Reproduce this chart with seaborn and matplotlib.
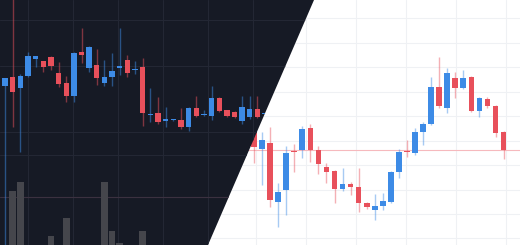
import numpy as np
import matplotlib
matplotlib.use("Agg")
import matplotlib.pyplot as plt
import seaborn as sns
from matplotlib.patches import Polygon

# ---------------- data: dark (left) chart ----------------
dark_open = [159, 168, 157, 169, 186, 184, 188, 172, 162, 149, 193, 177, 180, 162, 168, 177, 185, 175,
             178, 130, 132, 124, 124.5, 125, 118, 137, 129.5, 129, 147, 135, 133, 123.5, 128, 136, 131]
dark_close = [167, 153, 169, 189, 189, 178, 179, 161, 149, 192, 190, 198, 167, 168, 174, 179, 172, 176,
              132, 131, 123, 126, 125.5, 118, 137, 129, 130.5, 147, 134, 129, 127.5, 138, 136, 128, 132]
dark_high = [167, 250, 171, 193, 189, 184, 189, 183, 169, 193, 217, 199, 196, 185, 192, 217, 190, 184,
             187, 157, 148, 138, 126, 137, 138, 149, 135, 159, 148, 135, 134, 149, 149, 149, 132]
dark_low = [-5, 118, 93, 168, 178, 173, 175, 158, 143, 143, 182, 173, 160, 159, 159, 170, 168, 171,
            119, 123, 121, 118, 124, 116, 114, 128, 129, 125, 133, 128, 127, 121, 126, 127, 131]
dark_volume = [0, 54, 63, 0, 0, 0, 9, 0, 27, 0, 0, 0, 0, 63, 14, 2, 0, 0,
               14, 0, 0, 0, 0, 0, 0, 0, 0, 0, 0, 0, 0, 0, 0, 0, 0]
dark_last_price = 48

# ---------------- data: light (right) chart ----------------
light_open = [113, 96, 102, 43, 55, 94, 95, 117, 95, 78, 74, 56, 61, 58, 42, 35, 39, 43, 73, 94, 92,
              113, 121, 158, 137, 167, 157, 168, 134, 146, 139, 113]
light_close = [98, 105, 45, 53, 92, 93, 116, 95, 81, 73, 56.5, 61, 58, 42, 38, 39.5, 44, 73, 93, 93, 113,
               121, 158, 139, 172, 157, 167, 134, 147, 139, 112, 95]
light_high = [115, 113, 118, 62, 99, 101, 119, 121, 99, 82, 75, 77, 63, 77, 43, 51, 52, 74, 96, 105, 117,
              123, 168, 188, 177, 173, 175, 169, 148, 148, 140, 114]
light_low = [82, 60, 38, 18, 30, 73, 87, 83, 71, 62, 42, 54, 50, 33, 36, 25, 35, 42, 67, 88, 90,
             100, 120, 137, 132, 147, 156, 133, 128, 137, 108, 86]
light_last_price = 95.5

UP = "#3d8be6"
DOWN = "#e8505b"

sns.set_theme(style="white")

W, H = 520, 245
fig = plt.figure(figsize=(W / 100, H / 100), dpi=100)


def draw_candles(ax, o, h, l, c, width, wick_alpha):
    o = np.asarray(o, float); c = np.asarray(c, float)
    h = np.asarray(h, float); l = np.asarray(l, float)
    x = np.arange(len(o))
    colors = np.where(c >= o, UP, DOWN)
    ax.vlines(x, l, h, colors=colors, lw=1.0, alpha=wick_alpha, zorder=3)
    bottoms = np.minimum(o, c)
    heights = np.maximum(np.abs(c - o), 1.0)
    ax.bar(x, heights, width, bottom=bottoms, color=colors, lw=0, zorder=4)


# ---------- light chart (full figure, covered on the left by the dark one) ----------
ax_l = fig.add_axes([0, 0, 1, 1], zorder=1)
ax_l.set_facecolor("white")
l_step, l_x0 = 8.05, 254
ax_l.set_xlim(-l_x0 / l_step, (W - l_x0) / l_step)
ax_l.set_ylim(0, H)
ax_l.set_xticks([(px - l_x0) / l_step for px in (256, 306, 356, 406, 456, 506)])
ax_l.set_yticks([227, 202, 178, 153, 129, 104, 80, 55, 31, 7])
ax_l.grid(True, color="#eff1f4", lw=0.8)
ax_l.tick_params(length=0, labelbottom=False, labelleft=False)
for s in ax_l.spines.values():
    s.set_visible(False)
ax_l.axhline(light_last_price, color="#f6b9bd", lw=0.8, zorder=2)
draw_candles(ax_l, light_open, light_high, light_low, light_close, 0.7, 0.45)

# ---------- dark chart, clipped to the left part of the diagonal ----------
ax_d = fig.add_axes([0, 0, 1, 1], zorder=2)
ax_d.set_axis_off()
d_step, d_x0 = 7.65, 5
ax_d.set_xlim(-d_x0 / d_step, (W - d_x0) / d_step)
ax_d.set_ylim(0, H)
poly = Polygon([(0, 0), (0, 1), (314 / W, 1), (208 / W, 0)], closed=True,
               transform=ax_d.transAxes, facecolor="#161a25", edgecolor="none", zorder=0)
ax_d.add_patch(poly)

for px in (28, 73, 118, 163, 208, 253):
    ax_d.axvline((px - d_x0) / d_step, color="#232734", lw=0.8, zorder=1)
for py in (20, 66, 132, 155):
    ax_d.axhline(H - py, color="#232734", lw=0.8, zorder=1)
ax_d.axhline(dark_last_price, color="#3b3140", lw=0.8, zorder=1)

d_idx = np.arange(len(dark_volume))
ax_d.bar(d_idx, dark_volume, 0.87, color="#45464c", lw=0, zorder=2)
draw_candles(ax_d, dark_open, dark_high, dark_low, dark_close, 0.7, 0.5)
ax_d.set_xlim(-d_x0 / d_step, (W - d_x0) / d_step)
ax_d.set_ylim(0, H)

for art in list(ax_d.collections) + list(ax_d.patches) + list(ax_d.lines):
    if art is not poly:
        art.set_clip_path(poly)

fig.savefig("out.png", dpi=100)
